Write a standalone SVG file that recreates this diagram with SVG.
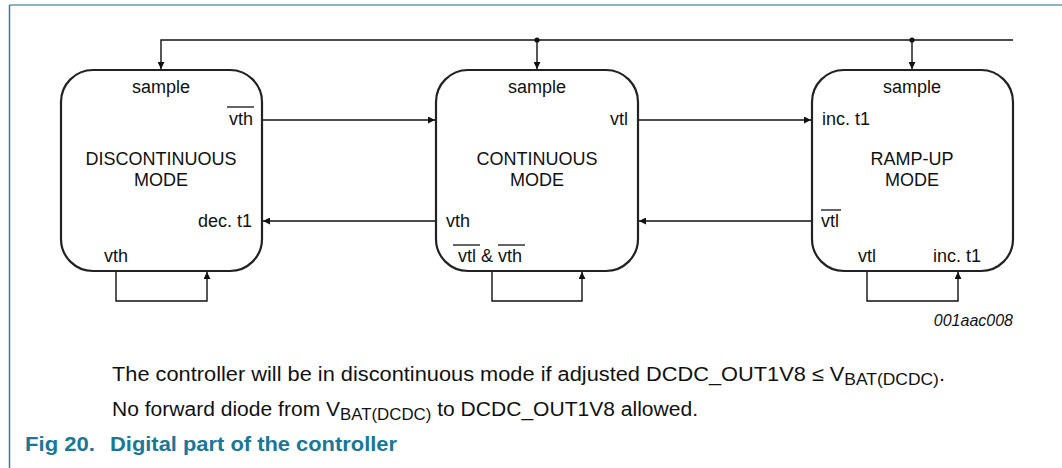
<svg xmlns="http://www.w3.org/2000/svg" width="1062" height="468" viewBox="0 0 1062 468">
<defs>
<style>
.box{fill:#fff;stroke:#222;stroke-width:2.2}
.ln{fill:none;stroke:#111;stroke-width:1.4}
.t{font-family:"Liberation Sans",Arial,sans-serif;font-size:18px;fill:#111}
.m{text-anchor:middle}
.e{text-anchor:end}
.ob{stroke:#111;stroke-width:1.3}
.body{font-family:"Liberation Sans",Arial,sans-serif;font-size:20px;fill:#111}
.cap{font-family:"Liberation Sans",Arial,sans-serif;font-size:21px;font-weight:bold;fill:#1b7796}
</style>
<marker id="ah" viewBox="0 0 10 10" refX="10" refY="5" markerWidth="8" markerHeight="7" markerUnits="userSpaceOnUse" orient="auto">
<path d="M0,0 L10,5 L0,10 z" fill="#111"/>
</marker>
</defs>
<rect width="1062" height="468" fill="#fff"/>
<g id="frame">
<line x1="9.5" y1="5" x2="1062" y2="5" stroke="#5a9db3" stroke-width="1.5"/>
<line x1="9.5" y1="5" x2="9.5" y2="468" stroke="#2f7fa0" stroke-width="1.5"/>
</g>
<g id="connectors">
<path class="ln" d="M1013,40 H161 V69" marker-end="url(#ah)"/>
<path class="ln" d="M537,40 V69" marker-end="url(#ah)"/>
<path class="ln" d="M912,40 V69" marker-end="url(#ah)"/>
<circle cx="537" cy="40" r="2.6" fill="#111"/>
<circle cx="912" cy="40" r="2.6" fill="#111"/>
<path class="ln" d="M262,120 H435" marker-end="url(#ah)"/>
<path class="ln" d="M638,120 H811" marker-end="url(#ah)"/>
<path class="ln" d="M436,221 H263" marker-end="url(#ah)"/>
<path class="ln" d="M812,221 H639" marker-end="url(#ah)"/>
<path class="ln" d="M116,271 V301 H207 V272" marker-end="url(#ah)"/>
<path class="ln" d="M492,271 V301 H582 V272" marker-end="url(#ah)"/>
<path class="ln" d="M867,271 V301 H958 V272" marker-end="url(#ah)"/>
</g>
<g id="discontinuous">
<rect class="box" x="61" y="70" width="201" height="201" rx="32"/>
<text class="t m" x="161" y="93">sample</text>
<text class="t e" x="253" y="125">vth</text>
<line class="ob" x1="227" y1="107" x2="254" y2="107"/>
<text class="t m" x="161" y="165">DISCONTINUOUS</text>
<text class="t m" x="161" y="186">MODE</text>
<text class="t e" x="252" y="227">dec. t1</text>
<text class="t" x="104" y="262">vth</text>
</g>
<g id="continuous">
<rect class="box" x="436" y="70" width="202" height="201" rx="32"/>
<text class="t m" x="537" y="93">sample</text>
<text class="t e" x="628" y="125">vtl</text>
<text class="t m" x="537" y="165">CONTINUOUS</text>
<text class="t m" x="537" y="186">MODE</text>
<text class="t" x="446" y="227">vth</text>
<text class="t" x="458" y="262">vtl &amp; vth</text>
<line class="ob" x1="453" y1="245" x2="480" y2="245"/>
<line class="ob" x1="498" y1="245" x2="525" y2="245"/>
</g>
<g id="rampup">
<rect class="box" x="812" y="70" width="201" height="201" rx="32"/>
<text class="t m" x="912" y="93">sample</text>
<text class="t" x="822" y="125">inc. t1</text>
<text class="t m" x="912" y="165">RAMP-UP</text>
<text class="t m" x="912" y="186">MODE</text>
<text class="t" x="821" y="227">vtl</text>
<line class="ob" x1="821" y1="210" x2="841" y2="210"/>
<text class="t" x="858" y="262">vtl</text>
<text class="t" x="933" y="262">inc. t1</text>
</g>
<g id="notes">
<text x="1013" y="326" text-anchor="end" font-family="Liberation Sans,Arial,sans-serif" font-size="16" font-style="italic" fill="#111">001aac008</text>
<text class="body" x="112" y="381" textLength="833" lengthAdjust="spacingAndGlyphs">The controller will be in discontinuous mode if adjusted DCDC_OUT1V8 ≤ V<tspan font-size="16" dy="4">BAT(DCDC)</tspan><tspan dy="-4">.</tspan></text>
<text class="body" x="112" y="416" textLength="586" lengthAdjust="spacingAndGlyphs">No forward diode from V<tspan font-size="16" dy="4">BAT(DCDC)</tspan><tspan dy="-4"> to DCDC_OUT1V8 allowed.</tspan></text>
<text class="cap" x="25" y="451" textLength="70" lengthAdjust="spacingAndGlyphs">Fig 20.</text>
<text class="cap" x="110" y="451" textLength="287" lengthAdjust="spacingAndGlyphs">Digital part of the controller</text>
</g>
</svg>
